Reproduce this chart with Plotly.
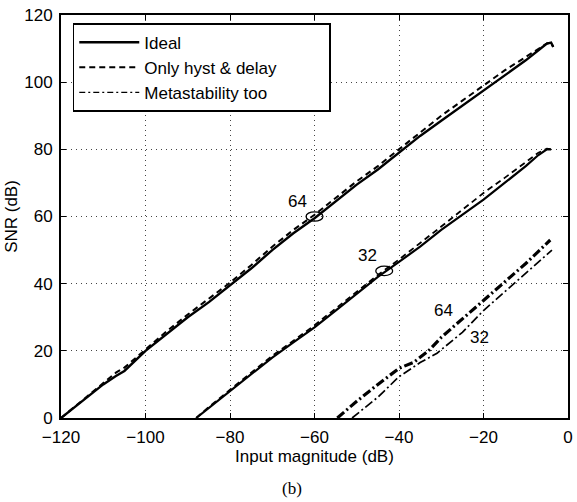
import plotly.graph_objects as go

# ---- data ----
ideal64_x = [-120, -115, -110, -107, -105, -100, -95, -90, -85, -80, -75, -70, -65, -60,
             -55, -50, -45, -40, -35, -30, -25, -20, -15, -10, -7, -5, -4, -3.5]
ideal64_y = [0, 5, 10, 12.5, 14, 20, 25, 30, 34.5, 39.5, 44.5, 50, 55, 59.5,
             64.5, 69.5, 74, 79, 84, 88.5, 93, 97.5, 102, 106.5, 109.5, 111.5, 111.8, 110.5]
hyst64_x = ideal64_x
hyst64_y = [0, 5.3, 10.5, 13.5, 15, 20.5, 25.8, 30.8, 35.5, 40.3, 45.5, 51, 56, 60.5,
            65.5, 70.5, 75, 80, 85, 90, 94.5, 99, 103.5, 107.5, 110, 111.5, 111.8, 110.5]

ideal32_x = [-88, -85, -80, -75, -70, -65, -60, -55, -50, -45, -40, -35, -30, -25,
             -20, -15, -10, -7, -5, -4]
ideal32_y = [0, 3, 8, 13, 18, 22.5, 27, 32, 37, 42, 46.5, 51, 56, 60.5,
             65, 70, 75, 78.3, 80, 80]
hyst32_x = ideal32_x
hyst32_y = [0, 3.3, 8.4, 13.5, 18.5, 23, 27.6, 32.6, 37.6, 42.6, 47.2, 52, 57, 62,
            67, 71.5, 76.3, 79, 80.2, 80]

meta64_x = [-54.6, -50, -45, -40, -36.5, -33, -30, -25, -20, -15, -10, -4.2]
meta64_y = [0, 5, 10, 14.8, 16.6, 20, 24, 29.5, 35, 40.5, 46, 53]
meta32_x = [-51.1, -45, -40, -35, -31, -25, -20, -15, -10, -3.8]
meta32_y = [0, 6.2, 12.3, 16.5, 19.3, 25.5, 32, 37.5, 43, 50]

# ellipse markers on the ideal curves
ell_x = [-60, -43.5]
ell_y = [60, 43.8]

# text labels
label_text = ["64", "32", "64", "32"]
label_x = [-64, -47.5, -29.5, -21]
label_y = [64.5, 48.5, 32, 24]

legend_names = ["Ideal", "Only hyst & delay", "Metastability too"]

x_ticks = [-120, -100, -80, -60, -40, -20, 0]
y_ticks = [0, 20, 40, 60, 80, 100, 120]

FONT = "Liberation Sans, Arial, Helvetica, sans-serif"
PAD = "\u00a0" * 10

fig = go.Figure()

def add(x, y, name, dash, width, show):
    fig.add_trace(go.Scatter(x=x, y=y, mode="lines", name=name + PAD, showlegend=show,
                             line=dict(color="black", dash=dash, width=width)))

add(ideal64_x, ideal64_y, legend_names[0], "solid", 2.4, True)
add(hyst64_x, hyst64_y, legend_names[1], "6px,4px", 2.0, True)
add(ideal32_x, ideal32_y, legend_names[0], "solid", 2.2, False)
add(hyst32_x, hyst32_y, legend_names[1], "6px,4px", 1.8, False)
add(meta64_x, meta64_y, legend_names[2], "9px,3px,2px,3px", 3.2, False)
add(meta32_x, meta32_y, legend_names[2], "9px,3px,2px,3px", 1.7, False)
# legend entry with thin dash-dot
fig.add_trace(go.Scatter(x=[None], y=[None], mode="lines", name=legend_names[2] + PAD,
                         line=dict(color="black", dash="6px,3px,2px,3px", width=1.3)))

for ex, ey in zip(ell_x, ell_y):
    fig.add_shape(type="circle", xref="x", yref="y",
                  x0=ex - 2.0, x1=ex + 2.0, y0=ey - 1.4, y1=ey + 1.4,
                  line=dict(color="black", width=1.3))

for t, lx, ly in zip(label_text, label_x, label_y):
    fig.add_annotation(x=lx, y=ly, text=t, showarrow=False,
                       font=dict(family=FONT, size=17, color="black"))

fig.add_annotation(xref="paper", yref="paper", x=0.455, y=-0.175, yanchor="middle",
                   text="(b)", showarrow=False,
                   font=dict(family="Liberation Serif, Times New Roman, serif", size=17, color="black"))

axis_common = dict(showgrid=True, gridcolor="#444444", griddash="1px,4px", gridwidth=1.2,
                   showline=True, linecolor="black", linewidth=1.8, mirror="ticks",
                   ticks="inside", ticklen=5, tickcolor="black", zeroline=False,
                   tickfont=dict(family=FONT, size=17, color="black"))

fig.update_xaxes(range=[-120, 0], tickvals=x_ticks,
                 ticktext=[str(v).replace("-", "\u2212") for v in x_ticks],
                 ticklabelstandoff=3,
                 title=dict(text="Input magnitude (dB)", standoff=0,
                            font=dict(family=FONT, size=17, color="black")),
                 **axis_common)
fig.update_yaxes(range=[0, 120], tickvals=y_ticks, ticklabelstandoff=3,
                 title=dict(text="SNR (dB)", standoff=2,
                            font=dict(family=FONT, size=17, color="black")),
                 **axis_common)

fig.update_layout(
    width=577, height=502,
    margin=dict(l=61, r=4, t=15, b=84),
    plot_bgcolor="white", paper_bgcolor="white",
    legend=dict(x=0.023, y=0.98, xanchor="left", yanchor="top",
                bordercolor="black", borderwidth=1.6, bgcolor="white",
                font=dict(family=FONT, size=17, color="black"),
                itemwidth=60, tracegroupgap=0),
    showlegend=True,
)

fig.write_html("out.html")
